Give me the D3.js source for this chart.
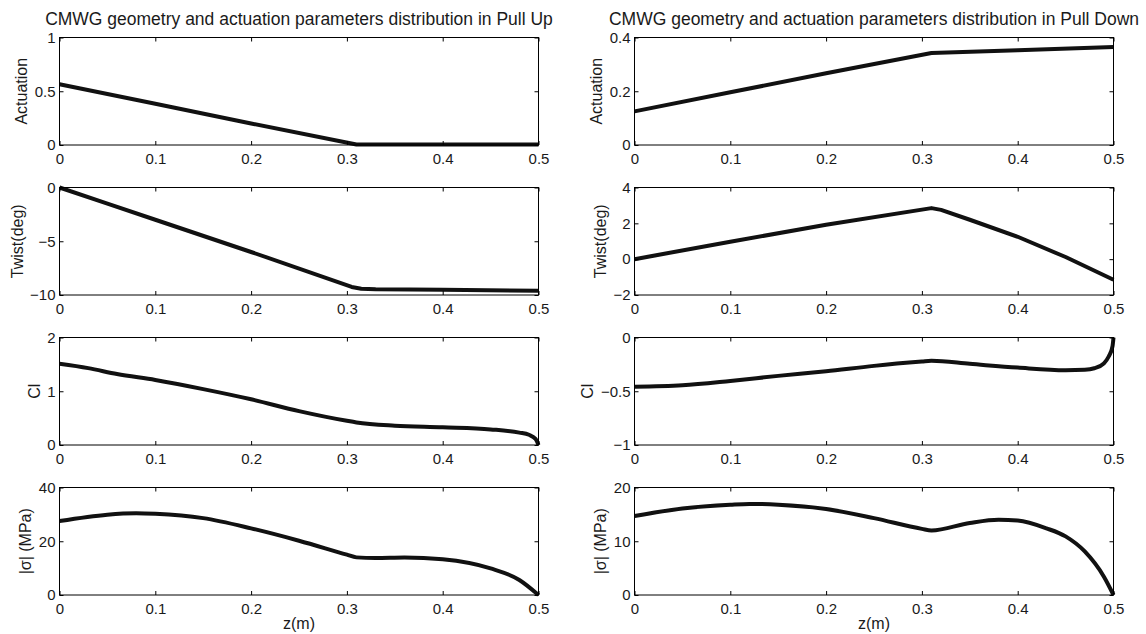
<!DOCTYPE html>
<html>
<head>
<meta charset="utf-8">
<script src="https://cdn.jsdelivr.net/npm/d3@7"></script>
<style>
  html, body { margin: 0; padding: 0; background: #fff; }
  svg { display: block; font-family: "Liberation Sans", Arial, Helvetica, sans-serif; }
</style>
</head>
<body>
<svg id="chart" width="1146" height="634"></svg>
<script>
// ---------- data ----------
const xTicks = [0, 0.1, 0.2, 0.3, 0.4, 0.5];
const titles = [
  "CMWG geometry and actuation parameters distribution in Pull Up",
  "CMWG geometry and actuation parameters distribution in Pull Down"
];
const yLabels = ["Actuation", "Twist(deg)", "Cl", "|σ| (MPa)"];
const xLabel = "z(m)";

const upYDomains = [[0, 1], [-10, 0], [0, 2], [0, 40]];
const upYTicks = [[0, 0.5, 1], [-10, -5, 0], [0, 1, 2], [0, 20, 40]];
const downYDomains = [[0, 0.4], [-2, 4], [-1, 0], [0, 20]];
const downYTicks = [[0, 0.2, 0.4], [-2, 0, 2, 4], [-1, -0.5, 0], [0, 10, 20]];

// Pull Up series  [z, value]
const upActuation = [[0, 0.565], [0.1, 0.383], [0.2, 0.2], [0.31, 0.004], [0.4, 0.004], [0.5, 0.004]];
const upTwist = [[0, 0], [0.05, -1.5], [0.1, -3.0], [0.2, -6.0], [0.305, -9.25], [0.315, -9.42], [0.33, -9.47], [0.4, -9.52], [0.5, -9.6]];
const upCl = [[0, 1.51], [0.03, 1.43], [0.06, 1.32], [0.1, 1.21], [0.15, 1.04], [0.2, 0.85], [0.25, 0.63], [0.3, 0.45], [0.31, 0.42], [0.35, 0.36], [0.4, 0.33], [0.45, 0.29], [0.48, 0.23], [0.49, 0.19], [0.497, 0.11], [0.5, 0.0]];
const upSigma = [[0, 27.5], [0.05, 29.9], [0.08, 30.4], [0.1, 30.2], [0.15, 28.6], [0.2, 24.8], [0.25, 20.2], [0.3, 15.0], [0.31, 14.0], [0.33, 13.8], [0.36, 14.0], [0.4, 13.3], [0.45, 9.9], [0.48, 5.6], [0.5, 0.0]];

// Pull Down series  [z, value]
const downActuation = [[0, 0.125], [0.1, 0.196], [0.2, 0.267], [0.31, 0.342], [0.4, 0.353], [0.5, 0.365]];
const downTwist = [[0, 0], [0.1, 0.97], [0.2, 1.92], [0.31, 2.85], [0.32, 2.75], [0.35, 2.2], [0.4, 1.25], [0.45, 0.12], [0.5, -1.15]];
const downCl = [[0, -0.457], [0.05, -0.444], [0.1, -0.404], [0.15, -0.357], [0.2, -0.314], [0.25, -0.264], [0.3, -0.224], [0.31, -0.217], [0.35, -0.245], [0.4, -0.28], [0.45, -0.304], [0.47, -0.30], [0.48, -0.286], [0.49, -0.24], [0.495, -0.177], [0.499, -0.08], [0.5, 0.0]];
const downSigma = [[0, 14.7], [0.05, 16.1], [0.1, 16.8], [0.12, 16.95], [0.15, 16.8], [0.2, 16.0], [0.25, 14.3], [0.3, 12.3], [0.31, 12.0], [0.35, 13.4], [0.38, 14.0], [0.4, 13.85], [0.43, 12.4], [0.45, 10.9], [0.47, 8.1], [0.49, 3.4], [0.5, 0.0]];

const upSeries = [upActuation, upTwist, upCl, upSigma];
const downSeries = [downActuation, downTwist, downCl, downSigma];
const rowCurves = ["linear", "linear", "smooth", "smooth"];

// ---------- layout ----------
const svg = d3.select("#chart");
const cols = [{ x0: 59.5, x1: 538.5 }, { x0: 634.5, x1: 1113.5 }];
const rowTop = 37.5, rowStep = 150, rowH = 107.5;
const tickLen = 4;
const tickFont = 15;
const fmt = d3.format("~g");
const FONT = '"Liberation Sans", Arial, sans-serif';

function drawPanel(col, row, data, yDomain, yTicks) {
  const c = cols[col];
  const top = rowTop + row * rowStep, bottom = top + rowH;
  const x = d3.scaleLinear().domain([0, 0.5]).range([c.x0, c.x1]);
  const y = d3.scaleLinear().domain(yDomain).range([bottom, top]);
  const g = svg.append("g");

  // line (drawn first so the box stays crisp on top)
  const line = d3.line().x(d => x(d[0])).y(d => y(d[1]))
    .curve(rowCurves[row] === "linear" ? d3.curveLinear : d3.curveMonotoneX);
  g.append("path").datum(data).attr("d", line)
    .attr("fill", "none").attr("stroke", "#111").attr("stroke-width", 4)
    .attr("stroke-linejoin", "round").attr("stroke-linecap", "butt");

  // box
  g.append("rect").attr("x", c.x0).attr("y", top)
    .attr("width", c.x1 - c.x0).attr("height", rowH)
    .attr("fill", "none").attr("stroke", "#000").attr("stroke-width", 1);

  // axes with inward ticks
  const xb = g.append("g").attr("transform", `translate(0,${bottom})`)
    .call(d3.axisBottom(x).tickValues(xTicks).tickSize(-tickLen).tickPadding(8).tickFormat(fmt));
  const xt = g.append("g").attr("transform", `translate(0,${top})`)
    .call(d3.axisTop(x).tickValues(xTicks).tickSize(-tickLen).tickFormat(""));
  const yl = g.append("g").attr("transform", `translate(${c.x0},0)`)
    .call(d3.axisLeft(y).tickValues(yTicks).tickSize(-tickLen).tickPadding(4).tickFormat(fmt));
  const yr = g.append("g").attr("transform", `translate(${c.x1},0)`)
    .call(d3.axisRight(y).tickValues(yTicks).tickSize(-tickLen).tickFormat(""));
  [xb, xt, yl, yr].forEach(a => {
    a.select(".domain").remove();
    a.selectAll(".tick line").attr("stroke", "#000");
    a.selectAll("text").attr("fill", "#1a1a1a").style("font-size", tickFont + "px")
      .style("font-family", FONT);
  });

  // y label left of the widest tick label
  let maxW = 0;
  yl.selectAll(".tick text").each(function () { maxW = Math.max(maxW, this.getComputedTextLength()); });
  const lx = c.x0 - 4 - maxW - 13;
  g.append("text").attr("transform", `translate(${lx},${(top + bottom) / 2}) rotate(-90)`)
    .attr("text-anchor", "middle").attr("dy", "0.35em").attr("fill", "#1a1a1a")
    .style("font-size", "16px").style("font-family", FONT).text(yLabels[row]);

  if (row === 0) {
    g.append("text").attr("x", (c.x0 + c.x1) / 2).attr("y", 25)
      .attr("text-anchor", "middle").attr("fill", "#1a1a1a")
      .style("font-size", "17.5px").style("font-family", FONT).text(titles[col]);
  }
  if (row === 3) {
    g.append("text").attr("x", (c.x0 + c.x1) / 2).attr("y", 629)
      .attr("text-anchor", "middle").attr("fill", "#1a1a1a")
      .style("font-size", "16px").style("font-family", FONT).text(xLabel);
  }
}

for (let r = 0; r < 4; r++) {
  drawPanel(0, r, upSeries[r], upYDomains[r], upYTicks[r]);
  drawPanel(1, r, downSeries[r], downYDomains[r], downYTicks[r]);
}
</script>
</body>
</html>
